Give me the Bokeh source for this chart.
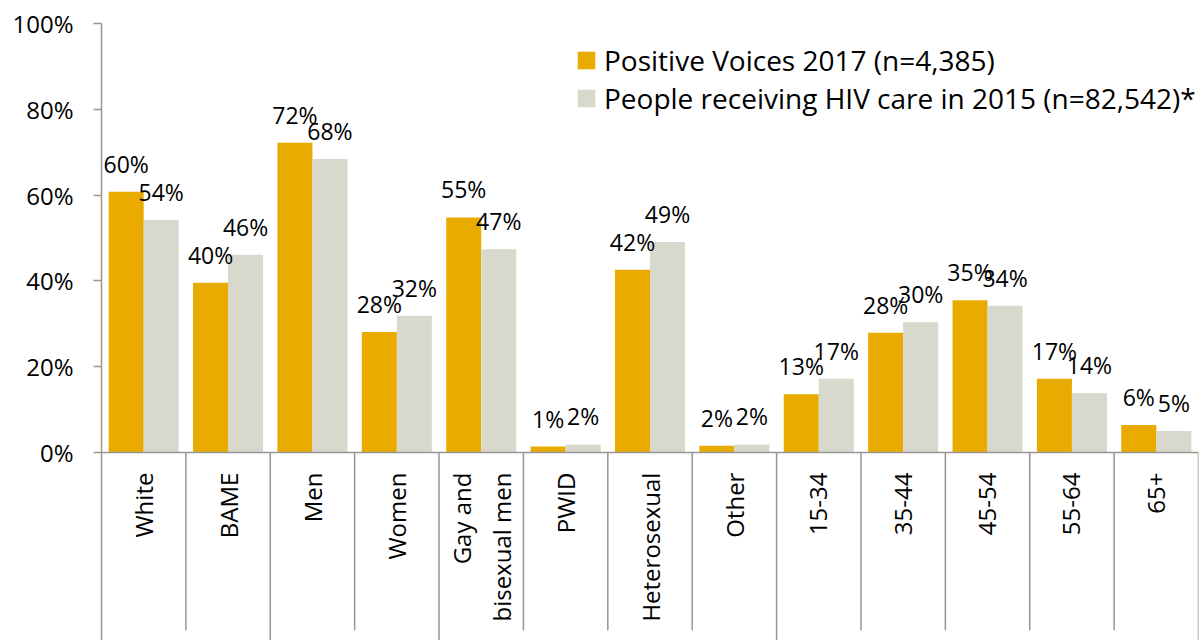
from bokeh.plotting import figure
from bokeh.models import ColumnDataSource, Range1d, FixedTicker, Span, Legend, LegendItem
from bokeh.core.properties import value
from bokeh.embed import file_html
from bokeh.resources import INLINE

# ---- data ----
categories = ["White", "BAME", "Men", "Women", "Gay and\nbisexual men", "PWID",
              "Heterosexual", "Other", "15-34", "35-44", "45-54", "55-64", "65+"]
group_sizes = [2, 2, 4, 5]  # ethnicity, gender, exposure, age
positive_voices = [60.8, 39.6, 72.2, 28.1, 54.8, 1.4, 42.6, 1.6, 13.6, 27.9, 35.5, 17.2, 6.4]
pv_labels = ["60%", "40%", "72%", "28%", "55%", "1%", "42%", "2%", "13%", "28%", "35%", "17%", "6%"]
hiv_care = [54.2, 46.1, 68.4, 31.9, 47.4, 1.9, 49.1, 1.9, 17.2, 30.4, 34.2, 13.8, 5.0]
hc_labels = ["54%", "46%", "68%", "32%", "47%", "2%", "49%", "2%", "17%", "30%", "34%", "14%", "5%"]
y_ticks = [0, 20, 40, 60, 80, 100]
series_names = ["Positive Voices 2017 (n=4,385)",
                "People receiving HIV care in 2015 (n=82,542)*"]

ORANGE = "#E9AB00"
GREY = "#D9D8CC"
AXIS = "#969696"
FONT = "Open Sans"

n = len(categories)
y_min = -43.8
offset = 0.2075
bar_w = 0.415

centers = [i + 0.5 for i in range(n)]
src_pv = ColumnDataSource(dict(x=[c - offset for c in centers], top=positive_voices, lab=pv_labels))
src_hc = ColumnDataSource(dict(x=[c + offset for c in centers], top=hiv_care, lab=hc_labels))
src_cat = ColumnDataSource(dict(x=centers, y=[0] * n, lab=categories))

# separators between categories (longer at group boundaries)
group_ends = []
acc = 0
for g in group_sizes:
    acc += g
    group_ends.append(acc)
sep_x = list(range(1, n + 1))
sep_y1 = [y_min if b in group_ends else -41.4 for b in sep_x]
src_sep = ColumnDataSource(dict(x=sep_x, y0=[0] * n, y1=sep_y1))

p = figure(width=1200, height=640, output_backend="svg", toolbar_location=None,
           x_range=Range1d(0, n), y_range=Range1d(y_min, 100),
           min_border_left=101, min_border_right=2, min_border_top=23, min_border_bottom=0)
p.outline_line_color = None
p.xgrid.visible = False
p.ygrid.visible = False
p.xaxis.visible = False
p.background_fill_color = "white"
p.border_fill_color = "white"

yax = p.yaxis[0]
yax.ticker = FixedTicker(ticks=y_ticks)
yax.major_label_overrides = {t: f"{t}%" for t in y_ticks}
yax.axis_line_color = AXIS
yax.axis_line_width = 1.5
yax.major_tick_line_color = AXIS
yax.major_tick_line_width = 1.5
yax.major_tick_in = 0
yax.major_tick_out = 8
yax.minor_tick_line_color = None
yax.major_label_text_font = FONT
yax.major_label_text_font_size = "24px"
yax.major_label_text_color = "black"
yax.major_label_standoff = 20

p.add_layout(Span(location=0, dimension="width", line_color=AXIS, line_width=1.5))
p.segment(x0="x", y0="y0", x1="x", y1="y1", source=src_sep, line_color=AXIS, line_width=1.5)

r_pv = p.vbar(x="x", top="top", width=bar_w, bottom=0, source=src_pv,
              fill_color=ORANGE, line_color=None)
r_hc = p.vbar(x="x", top="top", width=bar_w, bottom=0, source=src_hc,
              fill_color=GREY, line_color=None)

for src in (src_pv, src_hc):
    p.text(x="x", y="top", text="lab", source=src, text_font=value(FONT),
           text_font_size="23px", text_color="black", text_align="center",
           text_baseline="alphabetic", y_offset=-28)

p.text(x="x", y="y", text="lab", source=src_cat, text_font=value(FONT),
       text_font_size="24px", text_color="black", angle=1.5708,
       text_align="right", text_baseline="middle", y_offset=20)

legend = Legend(items=[LegendItem(label=series_names[0], renderers=[r_pv]),
                       LegendItem(label=series_names[1], renderers=[r_hc])],
                location=(474, 523), orientation="vertical",
                glyph_width=22, glyph_height=22, label_standoff=7,
                label_text_font=FONT, label_text_font_size="28px",
                label_text_color="black", spacing=-1, padding=0, margin=0,
                border_line_color=None, background_fill_alpha=0)
p.add_layout(legend, "center")

open("out.html", "w").write(file_html(p, INLINE))
